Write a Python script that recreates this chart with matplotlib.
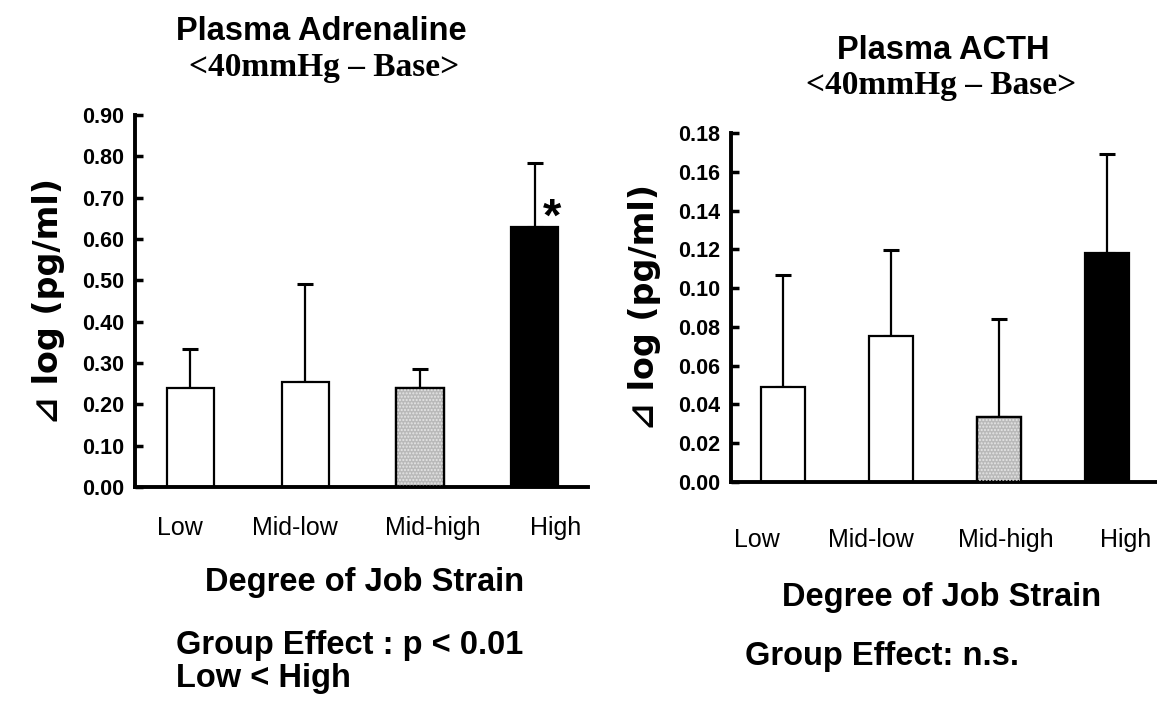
import numpy as np
import matplotlib.pyplot as plt

# Categories and values
categorias = ['Low', 'Mid-low', 'Mid-high', 'High']
adrenalina = [0.240, 0.255, 0.240, 0.628]
adrenalina_erro = [0.095, 0.235, 0.045, 0.155]
acth = [0.049, 0.0755, 0.0333, 0.118]
acth_erro = [0.0575, 0.044, 0.051, 0.051]
ticks_adr = [0.0, 0.1, 0.2, 0.3, 0.4, 0.5, 0.6, 0.7, 0.8, 0.9]
ticks_acth = [0.00, 0.02, 0.04, 0.06, 0.08, 0.10, 0.12, 0.14, 0.16, 0.18]

cores = ['white', 'white', '#b9b9b9', 'black']
SANS = 'Liberation Sans'
SERIF = 'Liberation Serif'

fig = plt.figure(figsize=(11.57, 7.01), dpi=100)
ax1 = fig.add_axes([0.1167, 0.3053, 0.3913, 0.5307])
ax2 = fig.add_axes([0.6318, 0.3124, 0.3682, 0.4979])


def desenha(ax, valores, erros, yticks, pos_rotulos, y_rotulos):
    x = np.arange(len(categorias))
    ax.bar(x, valores, width=0.41, color=cores, edgecolor='black', linewidth=1.6, zorder=2)
    # stippled texture on the Mid-high bar
    ax.bar(x[2], valores[2], width=0.41, color='none', edgecolor='#e6e6e6',
           hatch='.....', linewidth=0, zorder=3)
    ax.bar(x[2], valores[2], width=0.41, color='none', edgecolor='black',
           linewidth=1.6, zorder=4)
    ax.errorbar(x, valores, yerr=[np.zeros(len(erros)), erros], fmt='none',
                ecolor='black', elinewidth=1.6, capsize=6, capthick=2.2, zorder=1)
    ax.set_ylim(0, yticks[-1])
    ax.set_xlim(-0.48, 3.46)
    ax.set_yticks(yticks)
    ax.set_yticklabels([f'{t:.2f}' for t in yticks], fontfamily=SANS,
                       fontweight='bold', fontsize=15.5)
    ax.set_xticks([])
    ax.tick_params(axis='y', direction='in', length=6, width=2.5, pad=8)
    for lado in ['top', 'right']:
        ax.spines[lado].set_visible(False)
    for lado in ['left', 'bottom']:
        ax.spines[lado].set_linewidth(2.8)
    ax.spines['left'].set_capstyle('projecting')
    # category labels under the axis
    for xp, nome in zip(pos_rotulos, categorias):
        ax.text(xp, y_rotulos, nome, transform=ax.get_xaxis_transform(),
                ha='center', va='center', fontfamily=SANS, fontsize=18)
    ax.set_ylabel('⊿ log (pg/ml)', fontfamily=['DejaVu Sans'], fontweight='bold',
                  fontsize=24, labelpad=12)


desenha(ax1, adrenalina, adrenalina_erro, ticks_adr,
        [-0.09, 0.91, 2.11, 3.18], -0.11)
desenha(ax2, acth, acth_erro, ticks_acth,
        [-0.24, 0.81, 2.06, 3.17], -0.165)

# significance mark on the High bar
ax1.text(3.15, adrenalina[3] + 0.02, '*', fontfamily=SANS, fontweight='bold',
         fontsize=34, ha='center', va='center')

# titles
fig.text(0.278, 0.955, 'Plasma Adrenaline', ha='center', va='center',
         fontfamily=SANS, fontweight='bold', fontsize=23.5)
fig.text(0.28, 0.903, '<40mmHg – Base>', ha='center', va='center',
         fontfamily=SERIF, fontweight='bold', fontsize=24)
fig.text(0.815, 0.928, 'Plasma ACTH', ha='center', va='center',
         fontfamily=SANS, fontweight='bold', fontsize=23.5)
fig.text(0.813, 0.878, '<40mmHg – Base>', ha='center', va='center',
         fontfamily=SERIF, fontweight='bold', fontsize=24)

# axis titles and notes
fig.text(0.315, 0.169, 'Degree of Job Strain', ha='center', va='center',
         fontfamily=SANS, fontweight='bold', fontsize=23.5)
fig.text(0.814, 0.147, 'Degree of Job Strain', ha='center', va='center',
         fontfamily=SANS, fontweight='bold', fontsize=23.5)
fig.text(0.152, 0.055, 'Group Effect : p < 0.01\nLow < High', ha='left', va='center',
         fontfamily=SANS, fontweight='bold', fontsize=23.5, linespacing=1.08)
fig.text(0.644, 0.063, 'Group Effect: n.s.', ha='left', va='center',
         fontfamily=SANS, fontweight='bold', fontsize=23.5)

fig.savefig('out.png', dpi=100, facecolor='white')
